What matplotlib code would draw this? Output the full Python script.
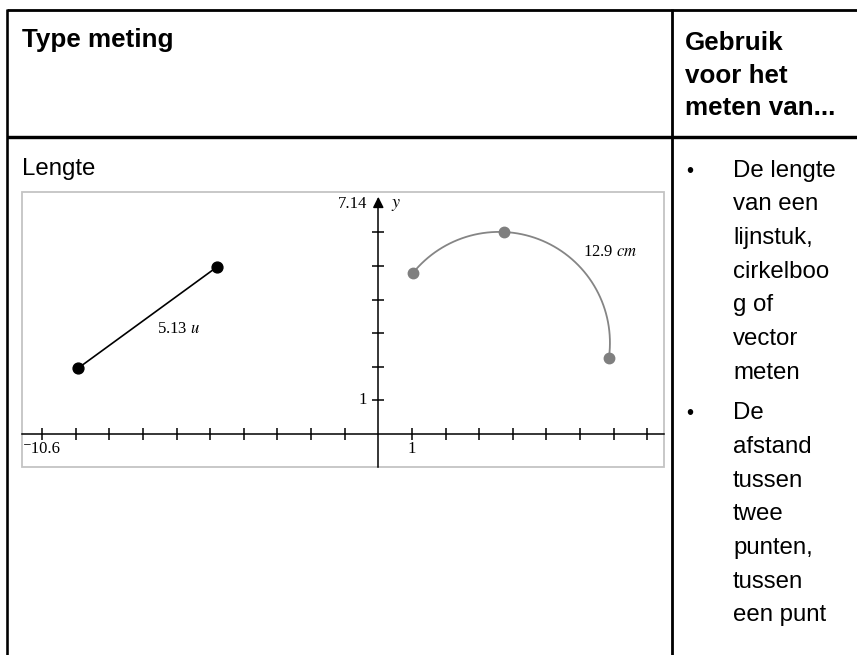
import numpy as np
import matplotlib
matplotlib.use("Agg")
import matplotlib.pyplot as plt

plt.rcParams["mathtext.fontset"] = "stix"

# table text
header_left = "Type meting"
header_right = ["Gebruik", "voor het", "meten van..."]
row_label = "Lengte"
bullet_1 = ["De lengte", "van een", "lijnstuk,", "cirkelboo", "g of", "vector", "meten"]
bullet_2 = ["De", "afstand", "tussen", "twee", "punten,", "tussen", "een punt"]

# graph window
x_min, x_max = -10.6, 8.5
y_min, y_max = -0.98, 7.2
y_top = 7.14
x_ticks = [-10, -9, -8, -7, -6, -5, -4, -3, -2, -1, 1, 2, 3, 4, 5, 6, 7, 8]
y_ticks = [1, 2, 3, 4, 5, 6]

# segment (left) and arc through three points (right)
seg_x = [-8.93, -4.80]
seg_y = [1.96, 4.97]
seg_label = "5.13 $u$"
arc_x = [1.03, 3.74, 6.86]
arc_y = [4.79, 6.01, 2.26]
arc_label = "12.9 $cm$"

W, H = 857, 655
fig = plt.figure(figsize=(W / 100, H / 100), dpi=100)

# page layer in pixel coordinates
page = fig.add_axes([0, 0, 1, 1])
page.set_xlim(0, W)
page.set_ylim(H, 0)
page.axis("off")

lw_px = 0.72
page.plot([7, W], [10, 10], color="black", lw=2.8 * lw_px, solid_capstyle="butt")
page.plot([7, 7], [9, H], color="black", lw=2.6 * lw_px, solid_capstyle="butt")
page.plot([7, W], [137, 137], color="black", lw=3.4 * lw_px, solid_capstyle="butt")
page.plot([672, 672], [9, H], color="black", lw=2.8 * lw_px, solid_capstyle="butt")

sans = "Liberation Sans"
fs = 17.3
fs_head = 18.7
page.text(22, 47, header_left, fontsize=fs_head, fontweight="bold", family=sans, va="baseline")
for i, s in enumerate(header_right):
    page.text(685, 50 + i * 32.7, s, fontsize=fs_head, fontweight="bold", family=sans,
              va="baseline")

page.text(22, 175.5, row_label, fontsize=fs, family=sans, va="baseline")

step = 33.7
y0 = 176.7
for i, s in enumerate(bullet_1):
    page.text(733, y0 + i * step, s, fontsize=fs, family=sans, va="baseline")
page.text(686, y0, "\u2022", fontsize=fs * 0.85, family=sans, va="baseline")
y1 = 419.3
for i, s in enumerate(bullet_2):
    page.text(733, y1 + i * step, s, fontsize=fs, family=sans, va="baseline")
page.text(686, y1, "\u2022", fontsize=fs * 0.85, family=sans, va="baseline")

# graph
gl, gt, gr, gb = 22, 192, 664, 467
ax = fig.add_axes([gl / W, 1 - gb / H, (gr - gl) / W, (gb - gt) / H])
ax.set_xlim(x_min, x_max)
ax.set_ylim(y_min, y_max)
for side in ["top", "right"]:
    ax.spines[side].set_visible(False)
ax.spines["left"].set_position(("data", 0))
ax.spines["bottom"].set_position(("data", 0))
ax.spines["left"].set_bounds(y_min, y_top - 0.2)
for side in ["left", "bottom"]:
    ax.spines[side].set_linewidth(1.1)
ax.set_xticks(x_ticks)
ax.set_yticks(y_ticks)
ax.tick_params(direction="inout", length=8, width=1.1, labelleft=False, labelbottom=False)
ax.patch.set_alpha(0)

frame = plt.Rectangle((0, 0), 1, 1, transform=ax.transAxes, fill=False,
                      edgecolor="#c4c4c4", lw=1.3, clip_on=False, zorder=0)
ax.add_patch(frame)

ax.annotate("", xy=(0, y_top), xytext=(0, y_top - 0.45),
            arrowprops=dict(arrowstyle="-|>", color="black", lw=1.1, mutation_scale=16))

serif = ["Liberation Serif", "DejaVu Serif"]
fs_g = 12
ax.text(-0.33, y_top - 0.3, "7.14", family=serif, fontsize=fs_g, ha="right", va="center")
ax.text(0.38, y_top - 0.3, "$y$", fontsize=fs_g + 1, ha="left", va="center")
ax.text(-0.33, 1, "1", family=serif, fontsize=fs_g, ha="right", va="center")
ax.text(1, -0.2, "1", family=serif, fontsize=fs_g, ha="center", va="top")
ax.text(x_min + 0.04, -0.2, "\u207b10.6", family=serif, fontsize=fs_g, ha="left", va="top")

ax.plot(seg_x, seg_y, color="black", lw=1.2, zorder=3)
ax.plot(seg_x, seg_y, "o", color="black", ms=7.8, zorder=4)
ax.text(-5.95, 3.12, seg_label, family=serif, fontsize=fs_g, ha="center", va="center")

# circle through the three arc points
p = np.array(list(zip(arc_x, arc_y)))
a = 2 * (p[1] - p[0])
b = 2 * (p[2] - p[1])
rhs = np.array([p[1] @ p[1] - p[0] @ p[0], p[2] @ p[2] - p[1] @ p[1]])
c = np.linalg.solve(np.array([a, b]), rhs)
r = np.linalg.norm(p[0] - c)
t0 = np.arctan2(p[0][1] - c[1], p[0][0] - c[0])
t1 = np.arctan2(p[2][1] - c[1], p[2][0] - c[0])
t = np.linspace(t0, t1, 200)
ax.plot(c[0] + r * np.cos(t), c[1] + r * np.sin(t), color="#858585", lw=1.3, zorder=3)
ax.plot(arc_x, arc_y, "o", color="#7f7f7f", ms=7.5, zorder=4)
ax.text(6.9, 5.42, arc_label, family=serif, fontsize=fs_g, ha="center", va="center")

fig.savefig("out.png", dpi=100)
